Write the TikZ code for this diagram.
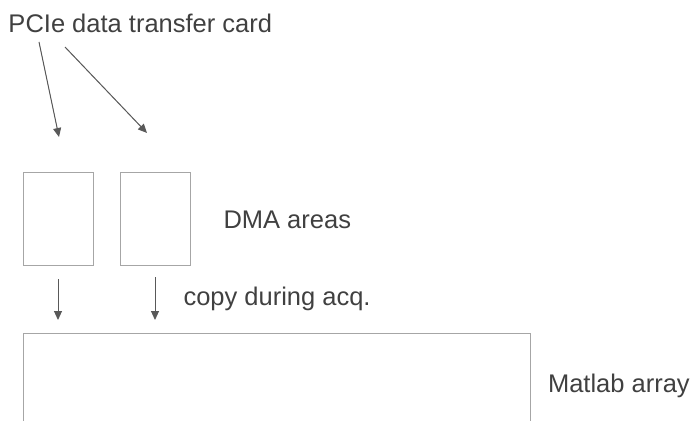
\documentclass[tikz,border=0pt]{standalone}
\usepackage{fontspec}
\setmainfont{Liberation Sans}
\usepackage{xcolor}
\usetikzlibrary{arrows.meta,positioning}

\definecolor{txtgray}{HTML}{404040}
\definecolor{arrgray}{HTML}{595959}
\definecolor{boxgray}{HTML}{A6A6A6}

\begin{document}
\begin{tikzpicture}[
    x = 1pt, y = -1pt, % pixel grid, y runs downwards
    > = {Triangle[length=9pt,width=8pt]}, % arrow head style
    every node/.style = {inner sep=0pt, outer sep=0pt},
    txt/.style = {text=txtgray, font=\fontsize{25.5}{30}\selectfont},
    area/.style = {draw=boxgray, line width=1pt, fill=white},
    flow/.style = {->, draw=arrgray, fill=arrgray, line width=1pt}
]
\useasboundingbox (0,0) rectangle (690,420);

\node[txt, anchor=base west] (card) at (8.5,33) {PCIe data transfer card};

% the two DMA buffers
\node[area, minimum width=70pt, minimum height=93pt] (dma1) at (58,218.5) {};
\node[area, minimum width=70pt, minimum height=93pt, right=27pt of dma1] (dma2) {};
\node[txt, anchor=base west] (dmalbl) at (223.5,228) {DMA areas};

% destination array (runs off the bottom)
\node[area, minimum width=507pt, minimum height=100pt, anchor=north west] (array) at (23,333) {};
\node[txt, anchor=base west] (arraylbl) at (548,392) {Matlab array};
\node[txt, anchor=base west] (copylbl) at (183.5,305) {copy during acq.};

% card writes into the buffers
\coordinate (tail1) at (39,42);
\coordinate (tip1) at (59,137);
\coordinate (tail2) at (65,47);
\coordinate (tip2) at (147,133);
\draw[flow] (tail1) -- (tip1);
\draw[flow] (tail2) -- (tip2);

% buffers copied into the array
\draw[flow, shorten <=14pt, shorten >=13pt] (dma1.south) -- (dma1.south |- array.north);
\draw[flow, shorten <=12pt, shorten >=13pt] (dma2.south) -- (dma2.south |- array.north);

\end{tikzpicture}
\end{document}
